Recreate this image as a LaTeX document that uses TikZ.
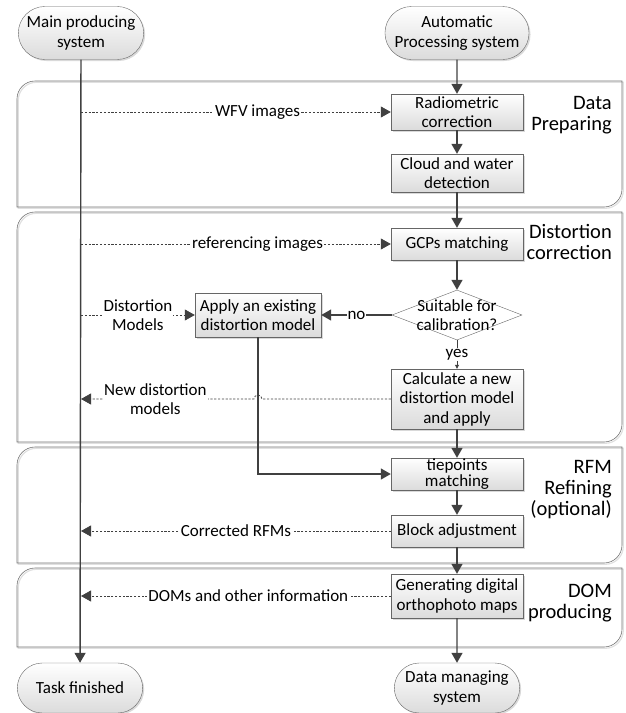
\documentclass[tikz,border=0pt]{standalone}
\usepackage{fontspec}
\setmainfont{Carlito}
\usetikzlibrary{arrows.meta,shapes.geometric,shapes.misc,shadows,calc}
\def\lane(#1:#2){\draw[laneshadow, shift={(1.3,1.3)}] (17,#2) -- (17,#1+18) arc (180:270:18) -- (622,#1) -- (622,#2-18) arc (0:90:18) -- cycle;
	\draw[lane] (17,#2) -- (17,#1+18) arc (180:270:18) -- (622,#1) -- (622,#2-18) arc (0:90:18) -- cycle;}
\tikzset{
	boxfont/.style={font=\fontsize{17}{19.5}\selectfont},
	proc/.style={rectangle, draw=black!60, top color=white, bottom color=black!14, minimum width=132pt, inner sep=2pt, align=center, boxfont, drop shadow={shadow xshift=1.5pt, shadow yshift=-1.5pt, opacity=0.3}},
	term/.style={rounded rectangle, draw=black!60, top color=white, bottom color=black!14, minimum width=132pt, minimum height=53pt, align=center, boxfont, drop shadow={shadow xshift=1.5pt, shadow yshift=-1.5pt, opacity=0.3}},
	decide/.style={diamond, draw=black!60, fill=white, minimum width=130pt, minimum height=50pt, inner sep=0pt},
	flow/.style={draw=black!75, line width=1.4pt, -{Triangle[length=10pt,width=11pt]}},
	thinflow/.style={draw=black!75, line width=0.8pt, -{Triangle[length=4pt,width=4pt]}},
	flowdot/.style={draw=black!75, line width=0.8pt, dash pattern=on 2.2pt off 1.6pt, -{Triangle[length=10pt,width=11pt]}},
	lbl/.style={fill=white, inner sep=1pt, align=center, boxfont},
	lanelbl/.style={anchor=north east, align=right, inner sep=0pt, font=\fontsize{20.5}{21}\selectfont},
	lane/.style={draw=black!55, line width=0.6pt},
	laneshadow/.style={draw=black!12, line width=1.2pt}
}

\begin{document}
\begin{tikzpicture}[x=1pt, y=-1pt]
	%%%%% START %%%%%
	\useasboundingbox (0,0) rectangle (625,713);
	
	\lane(81:207)
	\lane(212:442)
	\lane(447:563)
	\lane(568:647)
	
	\node[lanelbl] (lbldata) at (612,96) {Data\\Preparing};
	\node[lanelbl] (lbldist) at (612,224) {Distortion\\correction};
	\node[lanelbl] (lblrfm) at (612,460) {RFM\\Refining\\(optional)};
	\node[lanelbl] (lbldom) at (612,584) {DOM\\producing};
	
	\node[term] (mainsys) at (81,33) {Main producing\\system};
	\node[term] (autosys) at (457,33) {Automatic\\Processing system};
	\node[term, minimum height=50pt] (finished) at (80,688) {Task finished};
	\node[term, minimum height=50pt] (datamng) at (457,688) {Data managing\\system};
	
	\node[proc, minimum height=36pt] (radio) at (457,112) {Radiometric\\correction};
	\node[proc, minimum height=38pt] (cloud) at (457,173) {Cloud and water\\detection};
	\node[proc, minimum height=32pt] (gcps) at (457,244) {GCPs matching};
	\node[decide] (suit) at (457,315) {};
	\node[lbl, fill=none] at (suit) {Suitable for\\calibration?};
	\node[proc, minimum height=60pt] (calc) at (457,399) {Calculate a new\\distortion model\\and apply};
	\node[proc, minimum width=126pt, minimum height=44pt] (apply) at (258,315) {Apply an existing\\distortion model};
	\node[proc, minimum height=32pt, inner ysep=0pt, font=\fontsize{17}{16}\selectfont] (tie) at (457,474) {tiepoints\\matching};
	\node[proc, minimum height=32pt] (block) at (457,531) {Block adjustment};
	\node[proc, minimum height=44pt] (gendom) at (457,596) {Generating digital\\orthophoto maps};
	
	\coordinate (inwfv) at (mainsys |- radio);
	\coordinate (inref) at (mainsys |- gcps);
	\coordinate (indm) at (mainsys |- apply);
	\coordinate (outdm) at (mainsys |- calc);
	\coordinate (outrfm) at (mainsys |- block);
	\coordinate (outdom) at (mainsys |- gendom);
	\coordinate (hop) at (apply |- calc);
	
	% main line
	\draw[flow] (mainsys) -- (finished);
	
	% processing chain
	\draw[flow] (autosys) -- (radio);
	\draw[flow] (radio) -- (cloud);
	\draw[flow] (cloud) -- (gcps);
	\draw[flow] (gcps) -- (suit);
	\draw[flow] (suit) -- node[lbl]{no} (apply);
	\draw[thinflow] (suit) -- node[lbl]{yes} (calc);
	\draw[flow] (calc) -- (tie);
	\draw[flow] (apply) |- (tie);
	\draw[flow] (tie) -- (block);
	\draw[flow] (block) -- (gendom);
	\draw[flow] (gendom) -- (datamng);
	
	% data exchange
	\draw[flowdot] (inwfv) -- node[lbl, pos=0.57]{WFV images} (radio);
	\draw[flowdot] (inref) -- node[lbl, pos=0.57]{referencing images} (gcps);
	\draw[flowdot] (indm) -- node[lbl]{Distortion\\Models} (apply);
	\draw[flowdot] (calc.west) -- ($(hop)+(4,0)$) arc (0:-180:4) -- node[lbl, pos=0.57]{New distortion\\models} (outdm);
	\draw[flowdot] (block) -- node[lbl, pos=0.5]{Corrected RFMs} (outrfm);
	\draw[flowdot] (gendom) -- node[lbl, pos=0.46]{DOMs and other information} (outdom);
	
	%%%%% END %%%%%
\end{tikzpicture}
\end{document}
